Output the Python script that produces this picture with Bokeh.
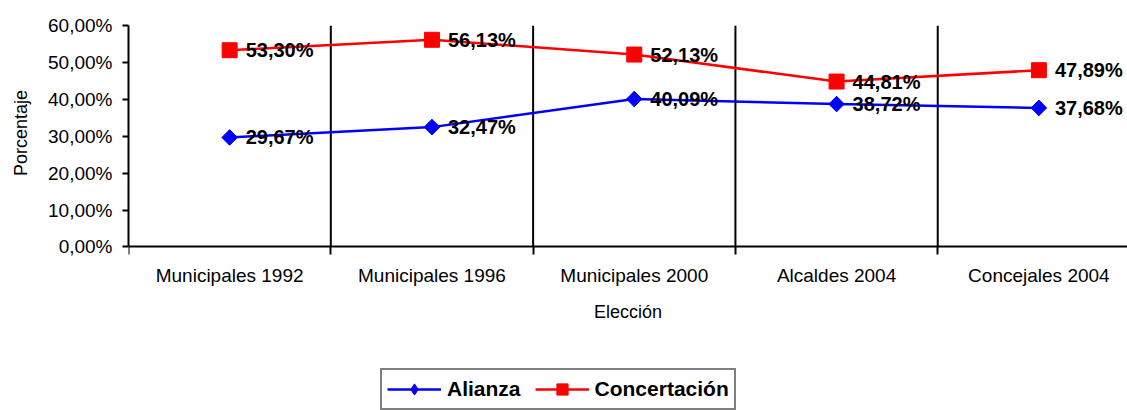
import numpy as np
from bokeh.plotting import figure
from bokeh.models import (Range1d, FixedTicker, Legend, LegendItem, ColumnDataSource)
from bokeh.core.properties import value
from bokeh.embed import file_html
from bokeh.resources import INLINE

categories = ["Municipales 1992", "Municipales 1996", "Municipales 2000", "Alcaldes 2004", "Concejales 2004"]
alianza = [29.67, 32.47, 40.09, 38.72, 37.68]
concertacion = [53.30, 56.13, 52.13, 44.81, 47.89]
y_ticks = [0, 10, 20, 30, 40, 50, 60]

FONT = "Liberation Sans"

def fmt(v):
    return f"{v:.2f}".replace(".", ",") + "%"

xs = list(range(len(categories)))
bounds = [i - 0.5 for i in range(len(categories) + 1)]
src_a = ColumnDataSource(dict(x=xs, y=alianza, lab=[fmt(v) for v in alianza]))
src_c = ColumnDataSource(dict(x=xs, y=concertacion, lab=[fmt(v) for v in concertacion]))
src_g = ColumnDataSource(dict(x=bounds[1:-1],
                              y0=[y_ticks[0]] * (len(bounds) - 2),
                              y1=[y_ticks[-1]] * (len(bounds) - 2)))

# the frame reaches the bottom of the figure so that the legend can sit under the axis
p = figure(width=1127, height=410,
           x_range=Range1d(-0.5, 4.438), y_range=Range1d(-44.3, 60),
           output_backend="svg", toolbar_location=None,
           min_border_left=128, min_border_right=0, min_border_top=25, min_border_bottom=0)
p.outline_line_color = None
p.background_fill_color = "white"

# y axis
p.yaxis.ticker = FixedTicker(ticks=y_ticks)
p.yaxis.bounds = (y_ticks[0], y_ticks[-1])
p.yaxis.major_label_overrides = {t: fmt(t) for t in y_ticks}
p.yaxis.minor_tick_line_color = None
p.yaxis.major_tick_out = 6
p.yaxis.major_tick_in = 0
p.yaxis.major_tick_line_width = 2
p.yaxis.major_tick_line_color = "black"
p.yaxis.axis_line_width = 2
p.yaxis.axis_line_color = "black"
p.yaxis.major_label_standoff = 10
p.yaxis.major_label_text_font = FONT
p.yaxis.major_label_text_font_size = "19px"
p.yaxis.major_label_text_color = "black"
# leading no-break spaces lift the title to the middle of the 0-60 % span
p.yaxis.axis_label = "\u00a0" * 34 + "Porcentaje"
p.yaxis.axis_label_text_font = FONT
p.yaxis.axis_label_text_font_size = "18px"
p.yaxis.axis_label_text_font_style = "normal"
p.yaxis.axis_label_text_color = "black"
p.yaxis.axis_label_standoff = 14

# x axis, pinned at 0
p.xaxis.fixed_location = 0
p.xaxis.ticker = FixedTicker(ticks=xs, minor_ticks=bounds)
p.xaxis.major_label_overrides = {i: c for i, c in enumerate(categories)}
p.xaxis.major_tick_line_color = None
p.xaxis.major_tick_out = 0
p.xaxis.major_tick_in = 0
p.xaxis.minor_tick_out = 8
p.xaxis.minor_tick_in = 0
p.xaxis.minor_tick_line_width = 2
p.xaxis.minor_tick_line_color = "black"
p.xaxis.axis_line_width = 2
p.xaxis.axis_line_color = "black"
p.xaxis.major_label_standoff = 10
p.xaxis.major_label_text_font = FONT
p.xaxis.major_label_text_font_size = "19px"
p.xaxis.major_label_text_color = "black"
p.xaxis.axis_label = "Elección"
p.xaxis.axis_label_text_font = FONT
p.xaxis.axis_label_text_font_size = "18px"
p.xaxis.axis_label_text_font_style = "normal"
p.xaxis.axis_label_text_color = "black"
p.xaxis.axis_label_standoff = 13

# grids: vertical separators between categories
p.ygrid.grid_line_color = None
p.xgrid.grid_line_color = None
p.segment(x0="x", y0="y0", x1="x", y1="y1", source=src_g, line_color="black", line_width=2)

# series
l1 = p.line("x", "y", source=src_a, line_color="#0000FF", line_width=2.5)
s1 = p.scatter("x", "y", source=src_a, marker="square", angle=np.pi / 4, size=11,
               fill_color="#0000FF", line_color="#0000FF")
d1 = p.scatter("x", "y", source=src_a, marker="diamond", size=15,
               fill_color="#0000FF", line_color="#0000FF")
l2 = p.line("x", "y", source=src_c, line_color="#FF0000", line_width=2.5)
s2 = p.scatter("x", "y", source=src_c, marker="square", size=15,
               fill_color="#FF0000", line_color="#FF0000")

for src in (src_a, src_c):
    p.text("x", "y", text="lab", source=src, x_offset=16,
           text_baseline="middle", text_align="left",
           text_font=value(FONT), text_font_size="20px", text_font_style="bold",
           text_color="black")

legend = Legend(items=[LegendItem(label="Alianza", renderers=[l1, d1]),
                       LegendItem(label="Concertación", renderers=[l2, s2])],
                location=(252, 0), orientation="horizontal")
legend.margin = 0
legend.padding = 5
legend.spacing = 14
legend.glyph_width = 54
legend.glyph_height = 28
legend.label_standoff = 6
legend.label_text_font = FONT
legend.label_text_font_size = "21px"
legend.label_text_font_style = "bold"
legend.label_text_color = "black"
legend.border_line_color = "black"
legend.border_line_width = 2
legend.background_fill_color = "white"
legend.background_fill_alpha = 1
p.add_layout(legend, "center")

open("out.html", "w").write(file_html(p, INLINE))
